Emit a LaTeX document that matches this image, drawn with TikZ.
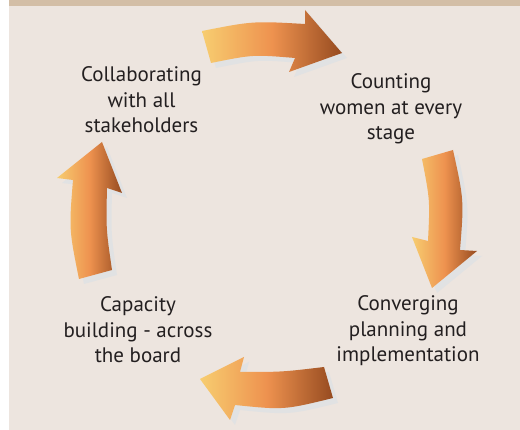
\documentclass[tikz,border=0pt]{standalone}
\usepackage{fontspec}
\setmainfont{PT Sans}

\definecolor{pageBg}{HTML}{EDE5DF}
\definecolor{topBand}{HTML}{D3BEA6}
\definecolor{arrowYellow}{HTML}{F7CD70}
\definecolor{arrowOrange}{HTML}{EE924F}
\definecolor{arrowBrown}{HTML}{964B20}
\definecolor{arrowShadow}{HTML}{E1E2E3}
\definecolor{labelText}{HTML}{231F20}

\tikzset{
  stageLabel/.style={align=center,text=labelText,
    font=\fontsize{21}{25.5}\selectfont},
  arrowBody/.style={left color=arrowYellow,right color=arrowBrown,
    middle color=arrowOrange},
  arrowShade/.style={fill=arrowShadow,shift={(5,5)}}
}

% shadow first, then the shaded arrow on top
\newcommand{\cycleArrow}[1]{%
  \fill[arrowShade] #1;
  \shade[arrowBody] #1;}

\begin{document}
\begin{tikzpicture}[x=1pt,y=-1pt]

  \useasboundingbox (0,0) rectangle (520,430);
  \fill[pageBg] (9,6) rectangle (520,430);
  \fill[topBand] (9,0) rectangle (520,6);

  % the four arrows
  \cycleArrow{(202,31) .. controls (253,21) .. (305,24) -- (305,10) -- (342,53)
    -- (289,72) -- (295,58) .. controls (253,54.5) .. (211,63) -- cycle}
  \cycleArrow{(453,150) -- (422,159) .. controls (430,200) .. (428,241)
    -- (412,237) -- (432,288) -- (477,251) -- (460,250)
    .. controls (464,200) .. (453,150) -- cycle}
  \cycleArrow{(200,379) -- (244,357) -- (240,372) .. controls (282,372) .. (324,367)
    -- (333,398) .. controls (284,410) .. (235,405) -- (230,420) -- cycle}
  \cycleArrow{(102,142) -- (122,193) -- (107,188) .. controls (106,229) .. (112,270)
    -- (79,279) .. controls (69,229.5) .. (73,180) -- (57,178) -- cycle}

  % stage labels
  \node[stageLabel] (collab) at (141.5,100) {Collaborating\\with all\\stakeholders};
  \node[stageLabel] (counting) at (391,109) {Counting\\women at every\\stage};
  \node[stageLabel] (converging) at (408,331) {Converging\\planning and\\implementation};
  \node[stageLabel] (capacity) at (138,330) {Capacity\\building - across\\the board};

\end{tikzpicture}
\end{document}
